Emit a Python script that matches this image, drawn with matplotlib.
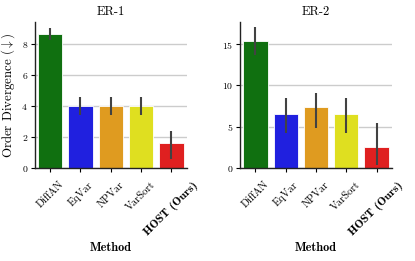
import matplotlib
matplotlib.use("Agg")
import matplotlib.pyplot as plt
import numpy as np

methods = ["DiffAN", "EqVar", "NPVar", "VarSort", "HOST (Ours)"]
colors = ["#107010", "#2020df", "#df9b20", "#dfdf20", "#df2020"]

er1_mean = [8.6, 4.0, 4.0, 4.0, 1.6]
er1_lo = [8.2, 3.4, 3.4, 3.4, 0.6]
er1_hi = [9.0, 4.6, 4.6, 4.6, 2.4]

er2_mean = [15.4, 6.6, 7.4, 6.6, 2.6]
er2_lo = [13.7, 4.3, 4.9, 4.3, 0.4]
er2_hi = [17.1, 8.5, 9.1, 8.5, 5.5]

plt.rcParams.update({
    "font.family": "cmr10",
    "mathtext.fontset": "cm",
    "axes.formatter.use_mathtext": True,
})

fig = plt.figure(figsize=(4.15, 2.61), dpi=100)
ax1 = fig.add_axes([0.0843, 0.355, 0.3655, 0.562])
ax2 = fig.add_axes([0.579, 0.355, 0.3648, 0.562])


def draw(ax, mean, lo, hi, title, ymax, ticks):
    x = np.arange(len(methods))
    mean = np.asarray(mean)
    err = np.vstack([mean - np.asarray(lo), np.asarray(hi) - mean])
    ax.set_axisbelow(True)
    ax.yaxis.grid(True, color="#cccccc", linewidth=1.0)
    ax.bar(x, mean, width=0.8, color=colors, edgecolor="white", linewidth=0.6)
    ax.errorbar(x, mean, yerr=err, fmt="none", ecolor="#424242", elinewidth=1.5, capsize=0)
    ax.set_xlim(-0.5, 4.5)
    ax.set_ylim(0, ymax)
    ax.set_yticks(ticks)
    ax.set_xticks(x)
    ax.set_xticklabels(methods, rotation=45, fontsize=7.6)
    last = ax.get_xticklabels()[-1]
    last.set_fontfamily("cmb10")
    last.set_fontsize(8.5)
    ax.tick_params(axis="y", labelsize=7, length=3, width=0.8, pad=2)
    ax.tick_params(axis="x", length=3, width=0.8, pad=5)
    for s in ["top", "right"]:
        ax.spines[s].set_visible(False)
    for s in ["left", "bottom"]:
        ax.spines[s].set_linewidth(1.0)
        ax.spines[s].set_color("#222222")
    ax.set_title(title, fontsize=9, pad=5)
    ax.set_xlabel("Method", fontsize=8.8, fontfamily="cmb10", labelpad=3)


draw(ax1, er1_mean, er1_lo, er1_hi, "ER-1", 9.4, [0, 2, 4, 6, 8])
draw(ax2, er2_mean, er2_lo, er2_hi, "ER-2", 17.7, [0, 5, 10, 15])
ax1.set_ylabel(r"Order Divergence ($\downarrow$)", fontsize=9.3)
ax1.yaxis.set_label_coords(-0.12, 0.5)

fig.savefig("out.png", dpi=100)
